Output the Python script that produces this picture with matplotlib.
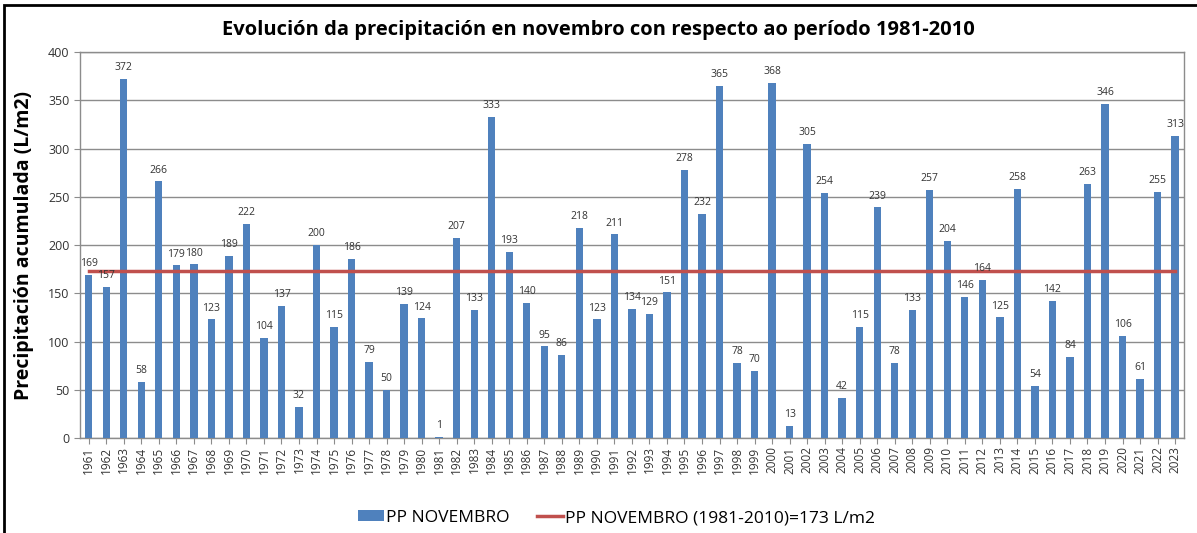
import matplotlib.pyplot as plt
from matplotlib.patches import Rectangle

plt.rcParams['font.family'] = ['Open Sans', 'DejaVu Sans']

# Datos: precipitación de novembro (L/m2)
years = list(range(1961, 2024))
pp_nov = [169, 157, 372, 58, 266, 179, 180, 123, 189, 222,
          104, 137, 32, 200, 115, 186, 79, 50, 139, 124,
          1, 207, 133, 333, 193, 140, 95, 86, 218, 123,
          211, 134, 129, 151, 278, 232, 365, 78, 70, 368,
          13, 305, 254, 42, 115, 239, 78, 133, 257, 204,
          146, 164, 125, 258, 54, 142, 84, 263, 346, 106,
          61, 255, 313]
media_ref = 173

BAR_BLUE = '#4F81BD'
LINE_RED = '#C0504D'
GRID = '#8C8C8C'

fig = plt.figure(figsize=(11.97, 5.33), dpi=100)
fig.patch.set_facecolor('white')
ax = fig.add_axes([0.0668, 0.178, 0.9222, 0.7245])

x = list(range(len(years)))
barras = ax.bar(x, pp_nov, width=0.42, color=BAR_BLUE, zorder=3)
linea, = ax.plot([x[0], x[-1]], [media_ref, media_ref], color=LINE_RED, lw=2.5, zorder=4)

for xi, v in zip(x, pp_nov):
    ax.text(xi, v + 6, str(v), ha='center', va='bottom', fontsize=7.5, color='#333333', zorder=5)

ax.set_xlim(-0.5, len(years) - 0.5)
ax.set_ylim(0, 400)
ax.set_yticks(range(0, 401, 50))
ax.set_xticks(x)
ax.set_xticklabels([str(y) for y in years], rotation=90, fontsize=8.5, color='#333333')
ax.tick_params(axis='y', labelsize=9, colors='#333333', length=4, color=GRID)
ax.tick_params(axis='x', length=4, color=GRID, pad=2)
ax.grid(axis='y', color=GRID, lw=1, zorder=0)
for s in ax.spines.values():
    s.set_color(GRID)
    s.set_linewidth(1)

ax.set_ylabel('Precipitación acumulada (L/m2)', fontsize=14, fontweight='bold', labelpad=10)
fig.text(0.5, 0.943, 'Evolución da precipitación en novembro con respecto ao período 1981-2010',
         ha='center', va='center', fontsize=14.5, fontweight='bold')

ax.legend([barras, linea], ['PP NOVEMBRO', 'PP NOVEMBRO (1981-2010)=173 L/m2'],
          loc='center', bbox_to_anchor=(0.486, -0.207), ncol=2, frameon=False,
          fontsize=12.5, handlelength=1.5, handleheight=0.6, columnspacing=1.6,
          handletextpad=0.1)

# marco exterior
fig.patches.append(Rectangle((0.003, -0.05), 1.2, 1.04, transform=fig.transFigure,
                             fill=False, edgecolor='black', lw=2))

fig.savefig('out.png', dpi=100, facecolor='white')
